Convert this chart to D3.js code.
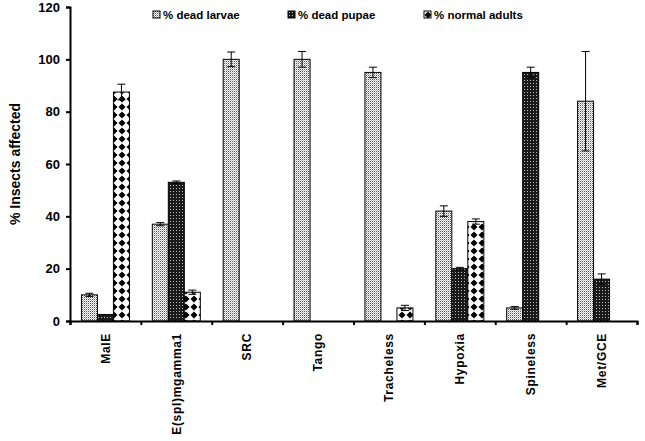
<!DOCTYPE html>
<html lang="en">
<head>
<meta charset="utf-8">
<title>Insects affected</title>
<script src="https://cdnjs.cloudflare.com/ajax/libs/d3/7.8.5/d3.min.js"></script>
<style>
  body { margin: 0; background: #fff; }
  text { font-family: "Liberation Sans", Arial, sans-serif; font-weight: bold; fill: #000; }
  .axis path, .axis line { stroke: #000; stroke-width: 2px; }
</style>
</head>
<body>
<div id="vis"></div>
<script>
var categories = ['MalE', 'E(spl)mgamma1', 'SRC', 'Tango', 'Tracheless', 'Hypoxia', 'Spineless', 'Met/GCE'];
var seriesNames = ['% dead larvae', '% dead pupae', '% normal adults'];
var deadLarvae = [10, 37, 100, 100, 95, 42, 5, 84];
var deadPupae = [2.5, 53, 0, 0, 0, 20, 95, 16];
var normalAdults = [87.5, 11, 0, 0, 5, 38, 0, 0];
var errLarvae = [0.6, 0.6, 2.8, 3, 2, 2, 0.5, 19];
var errPupae = [0, 0.5, 0, 0, 0, 0.5, 2, 2];
var errAdults = [3, 0.8, 0, 0, 1, 1, 0, 0];
var yTicks = [0, 20, 40, 60, 80, 100, 120];

var width = 645, height = 441;
var margin = { top: 7, right: 8, bottom: 120, left: 70 };

var svg = d3.select('#vis').append('svg')
    .attr('width', width)
    .attr('height', height);

var defs = svg.append('defs');

// fine grey dots
var p1 = defs.append('pattern').attr('id', 'pLarvae')
    .attr('patternUnits', 'userSpaceOnUse').attr('width', 2).attr('height', 2);
p1.append('rect').attr('width', 2).attr('height', 2).attr('fill', '#fff');
p1.append('rect').attr('width', 1).attr('height', 1).attr('fill', '#555');
p1.append('rect').attr('x', 1).attr('y', 1).attr('width', 1).attr('height', 1).attr('fill', '#bbb');

// dark with light dots
var p2 = defs.append('pattern').attr('id', 'pPupae')
    .attr('patternUnits', 'userSpaceOnUse').attr('width', 3).attr('height', 3);
p2.append('rect').attr('width', 3).attr('height', 3).attr('fill', '#1a1a1a');
p2.append('rect').attr('x', 1).attr('y', 1).attr('width', 1).attr('height', 1).attr('fill', '#bbb');

// black diamonds on white
var p3 = defs.append('pattern').attr('id', 'pAdults')
    .attr('patternUnits', 'userSpaceOnUse').attr('width', 8).attr('height', 8);
p3.append('rect').attr('width', 8).attr('height', 8).attr('fill', '#fff');
p3.append('path').attr('d', 'M4,0.5 L7.5,4 L4,7.5 L0.5,4 Z').attr('fill', '#000');

var fills = ['url(#pLarvae)', 'url(#pPupae)', 'url(#pAdults)'];
var values = [deadLarvae, deadPupae, normalAdults];
var errors = [errLarvae, errPupae, errAdults];

var w = width - margin.left - margin.right;
var h = height - margin.top - margin.bottom;

var g = svg.append('g')
    .attr('transform', 'translate(' + margin.left + ',' + margin.top + ')');

var x = d3.scaleBand().domain(categories).range([0, w]);
var xs = d3.scaleBand().domain(d3.range(3)).range([0, 48]);
var y = d3.scaleLinear().domain([0, 120]).range([h, 0]);

var data = [];
categories.forEach(function(c, i) {
    for (var s = 0; s < 3; s++) {
        data.push({ cat: c, s: s, v: values[s][i], e: errors[s][i] });
    }
});

var groupOffset = (x.bandwidth() - 48) / 2;

g.selectAll('.bar')
    .data(data.filter(function(d) { return d.v > 0; }))
    .enter().append('rect')
    .attr('class', 'bar')
    .attr('x', function(d) { return x(d.cat) + groupOffset + xs(d.s); })
    .attr('y', function(d) { return y(d.v); })
    .attr('width', xs.bandwidth())
    .attr('height', function(d) { return y(0) - y(d.v); })
    .attr('fill', function(d) { return fills[d.s]; })
    .attr('stroke', '#000')
    .attr('stroke-width', 1);

// error bars
var eb = g.selectAll('.err')
    .data(data.filter(function(d) { return d.v > 0 && d.e > 0; }))
    .enter().append('g').attr('class', 'err');

eb.append('line')
    .attr('x1', function(d) { return x(d.cat) + groupOffset + xs(d.s) + xs.bandwidth() / 2; })
    .attr('x2', function(d) { return x(d.cat) + groupOffset + xs(d.s) + xs.bandwidth() / 2; })
    .attr('y1', function(d) { return y(d.v - d.e); })
    .attr('y2', function(d) { return y(d.v + d.e); })
    .attr('stroke', '#000').attr('stroke-width', 1);

[-1, 1].forEach(function(k) {
    eb.append('line')
        .attr('x1', function(d) { return x(d.cat) + groupOffset + xs(d.s) + xs.bandwidth() / 2 - 4; })
        .attr('x2', function(d) { return x(d.cat) + groupOffset + xs(d.s) + xs.bandwidth() / 2 + 4; })
        .attr('y1', function(d) { return y(d.v + k * d.e); })
        .attr('y2', function(d) { return y(d.v + k * d.e); })
        .attr('stroke', '#000').attr('stroke-width', 1);
});

// axes
var yAxis = d3.axisLeft(y).tickValues(yTicks).tickSize(4).tickPadding(6);
g.append('g').attr('class', 'axis').call(yAxis)
    .selectAll('text').style('font-size', '13px');

var xIdx = d3.scaleLinear().domain([0, categories.length]).range([0, w]);
var xTickAxis = d3.axisBottom(xIdx).ticks(categories.length).tickSize(4).tickFormat('');
g.append('g').attr('class', 'axis')
    .attr('transform', 'translate(0,' + h + ')')
    .call(xTickAxis);

var xLabelAxis = d3.axisBottom(x).tickSize(0);
var xl = g.append('g')
    .attr('transform', 'translate(0,' + h + ')')
    .call(xLabelAxis);
xl.select('.domain').remove();
xl.selectAll('text')
    .style('font-size', '12px')
    .style('letter-spacing', '0.7px')
    .attr('text-anchor', 'end')
    .attr('transform', 'rotate(-90)')
    .attr('x', -12)
    .attr('y', 0)
    .attr('dy', '0.35em');

// y label
svg.append('text')
    .attr('transform', 'translate(20,' + (margin.top + h / 2) + ') rotate(-90)')
    .attr('text-anchor', 'middle')
    .style('font-size', '14px')
    .text('% Insects affected');

// legend
var legendX = [153, 288, 424];
var legend = svg.selectAll('.legend')
    .data(seriesNames)
    .enter().append('g')
    .attr('class', 'legend')
    .attr('transform', function(d, i) { return 'translate(' + legendX[i] + ',11)'; });

legend.append('rect')
    .attr('width', 7).attr('height', 7)
    .attr('fill', function(d, i) { return fills[i]; })
    .attr('stroke', '#000').attr('stroke-width', 1);

legend.append('text')
    .attr('x', 10).attr('y', 7.5)
    .style('font-size', '11.5px')
    .text(function(d) { return d; });
</script>
</body>
</html>
